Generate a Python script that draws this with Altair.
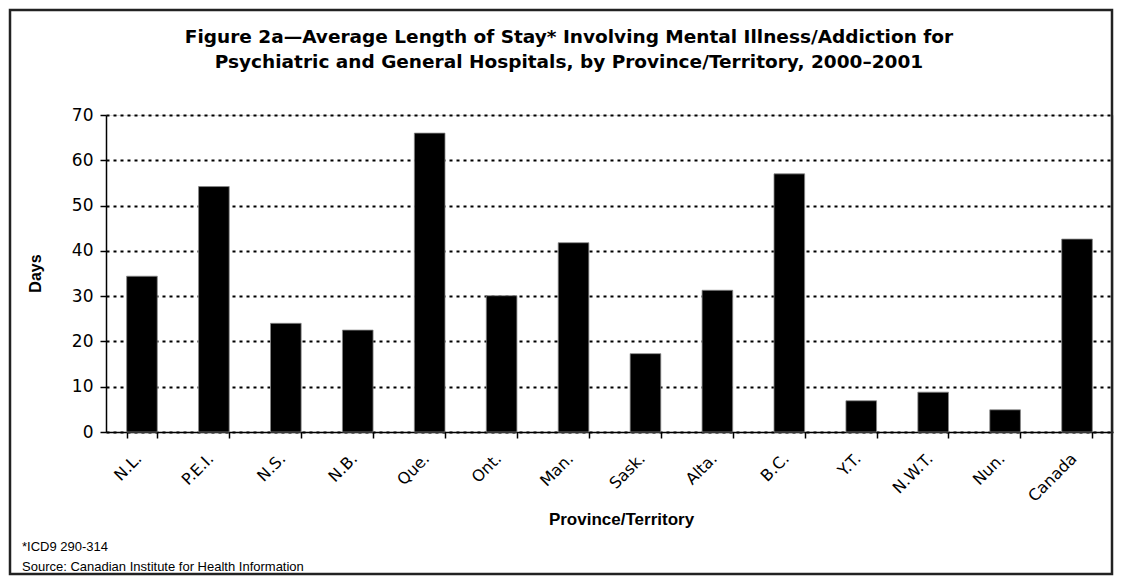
import altair as alt
import pandas as pd

categories = ["N.L.", "P.E.I.", "N.S.", "N.B.", "Que.", "Ont.", "Man.", "Sask.",
              "Alta.", "B.C.", "Y.T.", "N.W.T.", "Nun.", "Canada"]
days = [34.4, 54.2, 24.0, 22.5, 66.0, 30.1, 41.8, 17.3, 31.3, 57.0, 6.9, 8.8, 4.9, 42.6]
y_ticks = [0, 10, 20, 30, 40, 50, 60, 70]
title_lines = ["Figure 2a\u2014Average Length of Stay* Involving Mental Illness/Addiction for",
               "Psychiatric and General Hospitals, by Province/Territory, 2000\u20132001"]
footnotes = ["*ICD9 290-314", "Source: Canadian Institute for Health Information"]

df = pd.DataFrame({"cat": categories, "days": days})

W, H = 1007, 317
PL, PT = 98, 107
PR = 1107 - PL - W
PB = 569 - PT - H

FONT = "Liberation Sans"
TICKFONT = "DejaVu Sans"

bars = alt.Chart(df).mark_bar(color="black", stroke="#888888", strokeWidth=0.8).encode(
    x=alt.X("cat:N", sort=categories,
            scale=alt.Scale(paddingInner=0.574, paddingOuter=0.287),
            axis=alt.Axis(title="Province/Territory", labelAngle=-45, labelFontSize=16,
                          labelFont=TICKFONT, labelColor="black", labelPadding=12,
                          labelOffset=-9,
                          tickBand="extent", tickSize=6, tickColor="black",
                          domainColor="black", domainWidth=1.5, tickWidth=1.5,
                          titleFont=FONT, titleFontSize=17, titleFontWeight="bold",
                          titleColor="black", titleX=515, titleY=87, titleAlign="center",
                          titleBaseline="middle", grid=False)),
    y=alt.Y("days:Q", scale=alt.Scale(domain=[0, 70], nice=False),
            axis=alt.Axis(title="Days", values=y_ticks, labelFontSize=17, labelFont=TICKFONT,
                          labelColor="black", labelPadding=7,
                          tickSize=6, tickColor="black", tickWidth=1.5,
                          domainColor="black", domainWidth=1.5,
                          grid=True, gridColor="black", gridDash=[3, 4], gridWidth=2,
                          titleFont=FONT, titleFontSize=16, titleFontWeight="bold",
                          titleColor="black", titleX=-71, titleY=158, titleBaseline="middle")),
)

frame = alt.Chart(pd.DataFrame({"a": [0]})).mark_rect(
    fill=None, stroke="#222222", strokeWidth=2.5, clip=False
).encode(x=alt.value(-96), x2=alt.value(1006), y=alt.value(-105), y2=alt.value(459))

fn_df = pd.DataFrame({"t": footnotes, "i": [0, 1]})
notes = alt.Chart(fn_df).mark_text(
    align="left", baseline="middle", font=FONT, fontSize=13, color="black"
).encode(
    text="t:N",
    x=alt.value(-84),
    y=alt.Y("i:O", axis=None, scale=alt.Scale(range=[432, 452], padding=0)),
)

title_df = pd.DataFrame({"t": title_lines, "i": [0, 1]})
title = alt.Chart(title_df).mark_text(
    align="center", baseline="middle", font=TICKFONT, fontSize=18.5, fontWeight="bold",
    color="black"
).encode(
    text="t:N",
    x=alt.value(569 - 106),
    y=alt.Y("i:O", axis=None, scale=alt.Scale(range=[-78, -53], padding=0)),
)

chart = alt.layer(bars, frame, notes, title).resolve_scale(y="independent").properties(
    width=W, height=H,
    padding={"left": PL, "top": PT, "right": PR, "bottom": PB},
    autosize=alt.AutoSizeParams(type="none"),
).configure_view(stroke=None).configure(background="white")

chart.save("out.html", embed_options={"renderer": "svg", "actions": False})
